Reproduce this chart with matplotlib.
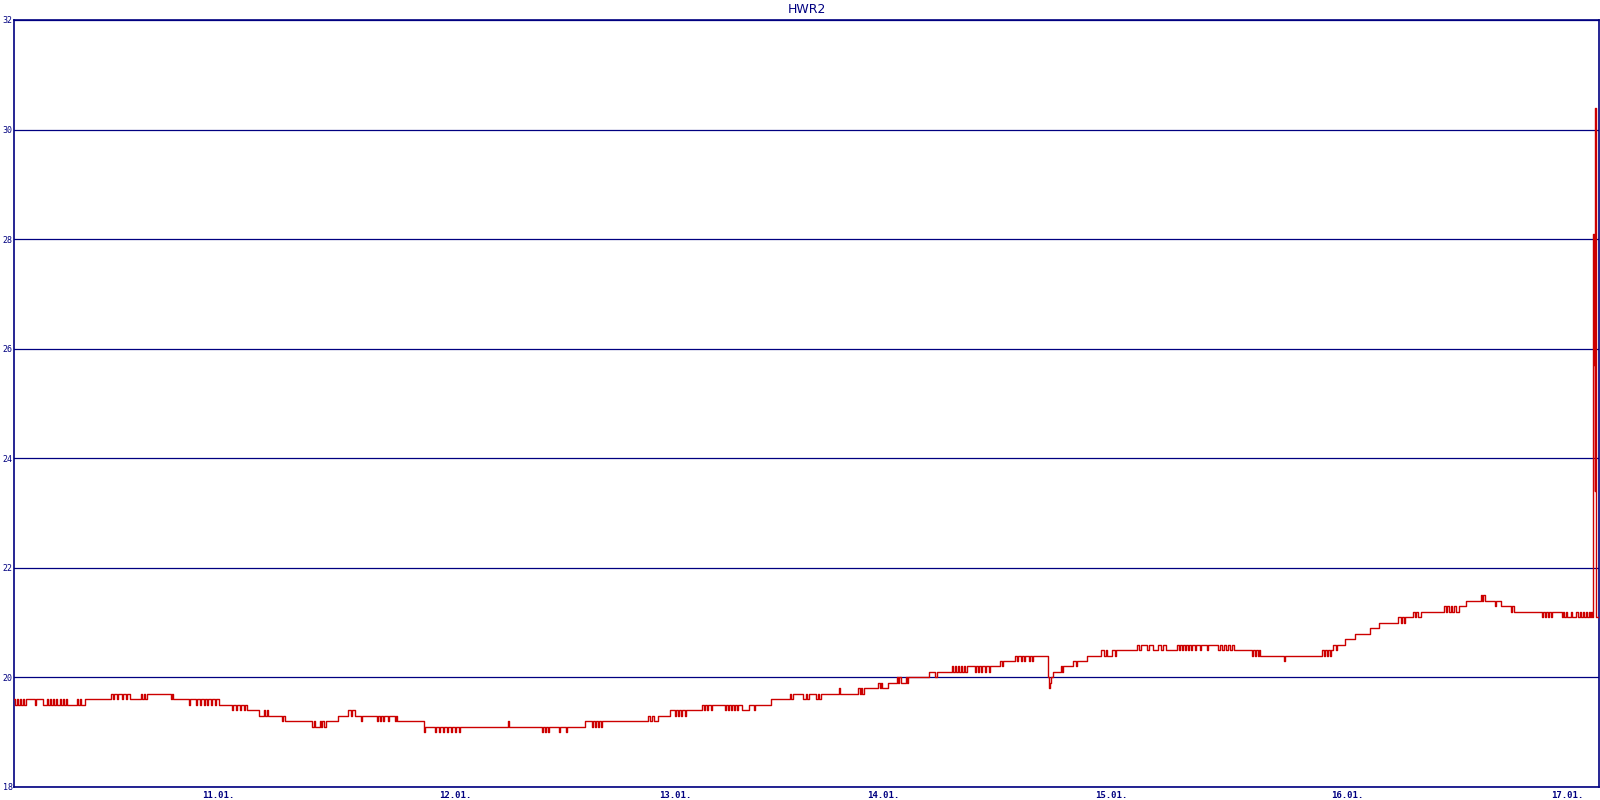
import matplotlib
matplotlib.use("Agg")
import matplotlib.pyplot as plt

# Messreihe HWR2: Stützstellen (Messpunkt-Index, Temperatur °C), Stufen halten bis zum nächsten Punkt
part1_x = [14, 15, 17, 18, 20, 21, 23, 24, 26, 35, 36, 43, 47, 48, 50, 51, 53, 54, 56, 57,
           60, 61, 63, 64, 66, 67, 77, 78, 80, 81, 85, 111, 113, 114, 117, 118, 122, 123, 126, 127,
           130, 141, 142, 144, 145, 147, 171, 172, 173, 189, 190, 196, 197, 200, 201, 204, 205, 207, 208, 211,
           212, 215, 216, 219, 232, 233, 236, 237, 240, 241, 244, 245, 247, 259, 264, 265, 267, 268]
part1_v = [19.6, 19.5, 19.6, 19.5, 19.6, 19.5, 19.6, 19.5, 19.6, 19.5, 19.6, 19.5, 19.6, 19.5, 19.6, 19.5, 19.6, 19.5, 19.6, 19.5,
           19.6, 19.5, 19.6, 19.5, 19.6, 19.5, 19.6, 19.5, 19.6, 19.5, 19.6, 19.7, 19.6, 19.7, 19.6, 19.7, 19.6, 19.7, 19.6, 19.7,
           19.6, 19.7, 19.6, 19.7, 19.6, 19.7, 19.6, 19.7, 19.6, 19.5, 19.6, 19.5, 19.6, 19.5, 19.6, 19.5, 19.6, 19.5, 19.6, 19.5,
           19.6, 19.5, 19.6, 19.5, 19.4, 19.5, 19.4, 19.5, 19.4, 19.5, 19.4, 19.5, 19.4, 19.3, 19.4, 19.3, 19.4, 19.3]

part2_x = [282, 283, 285, 312, 314, 315, 320, 321, 322, 324, 326, 338, 348, 351, 352, 355, 361, 362, 377, 378,
           380, 381, 383, 384, 388, 389, 395, 396, 397, 424, 425, 435, 436, 439, 440, 443, 444, 447, 448, 451,
           452, 455, 456, 459, 460, 508, 509, 542, 543]
part2_v = [19.2, 19.3, 19.2, 19.1, 19.2, 19.1, 19.2, 19.1, 19.2, 19.1, 19.2, 19.3, 19.4, 19.3, 19.4, 19.3, 19.2, 19.3, 19.2, 19.3,
           19.2, 19.3, 19.2, 19.3, 19.2, 19.3, 19.2, 19.3, 19.2, 19.0, 19.1, 19.0, 19.1, 19.0, 19.1, 19.0, 19.1, 19.0, 19.1, 19.0,
           19.1, 19.0, 19.1, 19.0, 19.1, 19.2, 19.1, 19.0, 19.1]

part3_x = [545, 546, 548, 549, 552, 559, 560, 566, 567, 585, 592, 593, 595, 596, 598, 599, 601, 602, 648, 650,
           652, 654, 658, 670, 675, 676, 678, 679, 681, 682, 685, 686, 702, 704, 705, 707, 708, 711, 712, 725,
           726, 728, 729, 731, 732, 734, 735, 737, 738, 742, 749, 754, 755, 771, 790, 791, 793, 803, 806, 807,
           809]
part3_v = [19.0, 19.1, 19.0, 19.1, 19.1, 19.0, 19.1, 19.0, 19.1, 19.2, 19.1, 19.2, 19.1, 19.2, 19.1, 19.2, 19.1, 19.2, 19.3, 19.2,
           19.3, 19.2, 19.3, 19.4, 19.3, 19.4, 19.3, 19.4, 19.3, 19.4, 19.3, 19.4, 19.5, 19.4, 19.5, 19.4, 19.5, 19.4, 19.5, 19.4,
           19.5, 19.4, 19.5, 19.4, 19.5, 19.4, 19.5, 19.4, 19.5, 19.4, 19.5, 19.4, 19.5, 19.6, 19.7, 19.6, 19.7, 19.6, 19.7, 19.6,
           19.7]

part4_x = [816, 818, 819, 821, 839, 840, 858, 860, 861, 862, 864, 878, 880, 881, 882, 888, 897, 898, 899, 901,
           906, 907, 908, 929, 935, 937, 952, 953, 955, 956, 958, 959, 961, 962, 964, 965, 967, 975, 976, 978,
           979, 981, 982, 985, 986, 989, 990, 1000, 1002, 1003, 1015, 1017, 1018, 1021, 1022, 1024, 1025, 1029, 1030, 1032,
           1033, 1048, 1049, 1050, 1051, 1053, 1061, 1062, 1063, 1073]
part4_v = [19.6, 19.7, 19.6, 19.7, 19.8, 19.7, 19.8, 19.7, 19.8, 19.7, 19.8, 19.9, 19.8, 19.9, 19.8, 19.9, 20.0, 19.9, 20.0, 19.9,
           20.0, 19.9, 20.0, 20.1, 20.0, 20.1, 20.2, 20.1, 20.2, 20.1, 20.2, 20.1, 20.2, 20.1, 20.2, 20.1, 20.2, 20.1, 20.2, 20.1,
           20.2, 20.1, 20.2, 20.1, 20.2, 20.1, 20.2, 20.3, 20.2, 20.3, 20.4, 20.3, 20.4, 20.3, 20.4, 20.3, 20.4, 20.3, 20.4, 20.3,
           20.4, 20.0, 19.8, 19.9, 20.0, 20.1, 20.2, 20.1, 20.2, 20.3]

part5_x = [1076, 1077, 1087, 1101, 1104, 1106, 1107, 1112, 1115, 1116, 1137, 1139, 1141, 1147, 1149, 1153, 1158, 1161, 1163, 1166,
           1177, 1179, 1180, 1182, 1183, 1185, 1186, 1188, 1189, 1191, 1192, 1195, 1196, 1200, 1201, 1207, 1208, 1218, 1220, 1222,
           1224, 1226, 1228, 1230, 1232, 1234, 1252, 1253, 1255, 1256, 1258, 1259, 1260, 1284, 1285, 1322, 1324, 1325, 1327, 1328,
           1330, 1331, 1333, 1336, 1337]
part5_v = [20.2, 20.3, 20.4, 20.5, 20.4, 20.5, 20.4, 20.5, 20.4, 20.5, 20.6, 20.5, 20.6, 20.5, 20.6, 20.5, 20.6, 20.5, 20.6, 20.5,
           20.6, 20.5, 20.6, 20.5, 20.6, 20.5, 20.6, 20.5, 20.6, 20.5, 20.6, 20.5, 20.6, 20.5, 20.6, 20.5, 20.6, 20.5, 20.6, 20.5,
           20.6, 20.5, 20.6, 20.5, 20.6, 20.5, 20.4, 20.5, 20.4, 20.5, 20.4, 20.5, 20.4, 20.3, 20.4, 20.5, 20.4, 20.5, 20.4, 20.5,
           20.4, 20.5, 20.6, 20.5, 20.6]

part6_x = [1345, 1355, 1370, 1379, 1398, 1401, 1402, 1404, 1405, 1413, 1415, 1416, 1418, 1421, 1444, 1446, 1447, 1449, 1451, 1452,
           1454, 1456, 1459, 1466, 1481, 1482, 1483, 1485, 1495, 1496, 1501, 1510, 1511, 1512, 1514, 1542, 1543, 1545, 1546, 1548,
           1549, 1551, 1552, 1562, 1563, 1564, 1566, 1567, 1571, 1572, 1576, 1578, 1580, 1581, 1583, 1584, 1586, 1587, 1589, 1590,
           1591, 1592, 1593, 1594, 1594.5, 1595, 1596, 1599]
part6_v = [20.7, 20.8, 20.9, 21.0, 21.1, 21.0, 21.1, 21.0, 21.1, 21.2, 21.1, 21.2, 21.1, 21.2, 21.3, 21.2, 21.3, 21.2, 21.3, 21.2,
           21.3, 21.2, 21.3, 21.4, 21.5, 21.4, 21.5, 21.4, 21.3, 21.4, 21.3, 21.3, 21.2, 21.3, 21.2, 21.1, 21.2, 21.1, 21.2, 21.1,
           21.2, 21.1, 21.2, 21.1, 21.2, 21.1, 21.2, 21.1, 21.2, 21.1, 21.2, 21.1, 21.2, 21.1, 21.2, 21.1, 21.2, 21.1, 21.2, 21.1,
           21.2, 21.1, 28.1, 25.7, 23.4, 30.4, 21.1, 21.1]

day_pos = [218, 455, 675, 883, 1111, 1347, 1567]
day_labels = ["11.01.", "12.01.", "13.01.", "14.01.", "15.01.", "16.01.", "17.01."]
y_ticks = [18, 20, 22, 24, 26, 28, 30, 32]

NAVY = "#000080"
RED = "#cc0000"

xs = part1_x + part2_x + part3_x + part4_x + part5_x + part6_x
vs = part1_v + part2_v + part3_v + part4_v + part5_v + part6_v

fig = plt.figure(figsize=(16, 8), dpi=100)
ax = fig.add_axes([14 / 1600, 13 / 800, 1585 / 1600, 767 / 800])

ax.plot(xs, vs, drawstyle="steps-post", color=RED, linewidth=1.0, zorder=3)

ax.set_xlim(14, 1599)
ax.set_ylim(18, 32)
ax.set_yticks(y_ticks)
ax.set_yticklabels([str(t) for t in y_ticks])
ax.set_xticks(day_pos)
ax.set_xticklabels(day_labels)
ax.grid(axis="y", color=NAVY, linewidth=0.9, zorder=1)

ax.tick_params(axis="y", length=0, pad=1, labelsize=6, labelcolor=NAVY)
ax.tick_params(axis="x", length=0, pad=3, labelsize=6.5, labelcolor=NAVY)
for lbl in ax.get_xticklabels():
    lbl.set_family("DejaVu Sans Mono")
    lbl.set_fontweight("bold")
for lbl in ax.get_yticklabels():
    lbl.set_family("DejaVu Sans Mono")

for sp in ax.spines.values():
    sp.set_color(NAVY)
    sp.set_linewidth(1.2)

ax.set_title("HWR2", color=NAVY, fontsize=9, pad=5)

fig.savefig("out.png", dpi=100)
plt.close(fig)
